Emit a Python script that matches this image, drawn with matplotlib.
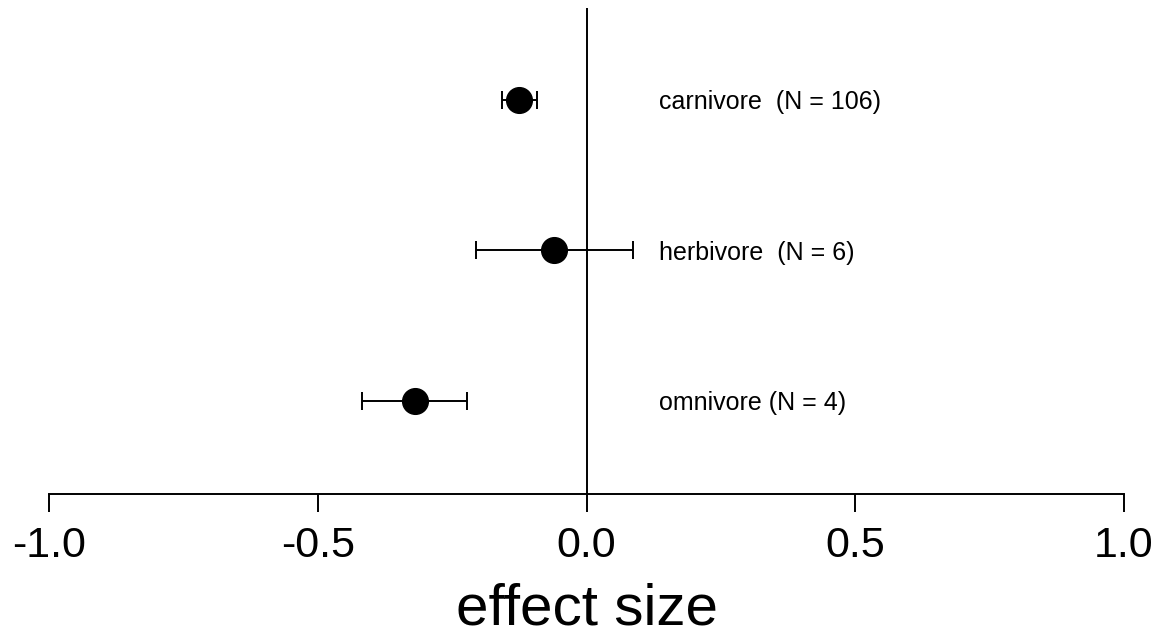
import matplotlib
matplotlib.use("Agg")
import matplotlib.pyplot as plt

groups = ["carnivore  (N = 106)", "herbivore  (N = 6)", "omnivore (N = 4)"]
ypos = [3, 2, 1]
effect = [-0.125, -0.060, -0.320]
lower = [-0.158, -0.206, -0.418]
upper = [-0.092, 0.086, -0.222]
xticks = [-1.0, -0.5, 0.0, 0.5, 1.0]
xticklabels = ["-1.0", "-0.5", "0.0", "0.5", "1.0"]

plt.rcParams['font.family'] = ['Liberation Sans', 'DejaVu Sans']

W, H = 1161, 637
fig = plt.figure(figsize=(W / 100, H / 100), dpi=100)
left, right, top, bottom = 49, 1124, 8, 494
ax = fig.add_axes([left / W, 1 - bottom / H, (right - left) / W, (bottom - top) / H])

ax.set_xlim(-1, 1)
ax.set_ylim(0.382, 3.611)

ax.axvline(0, color='black', lw=1.4)

xerr = [[e - l for e, l in zip(effect, lower)], [u - e for e, u in zip(effect, upper)]]
ax.errorbar(effect, ypos, xerr=xerr, fmt='o', color='black', ms=18.5,
            elinewidth=1.4, capsize=6.5, capthick=1.4, clip_on=False, zorder=3)

for y, g in zip(ypos, groups):
    ax.text(0.134, y, g, ha='left', va='center_baseline', fontsize=18)

for s in ['top', 'right', 'left']:
    ax.spines[s].set_visible(False)
ax.spines['bottom'].set_linewidth(1.4)
ax.set_yticks([])
ax.set_xticks(xticks)
ax.set_xticklabels(xticklabels, fontsize=31)
ax.tick_params(axis='x', length=13, width=1.4, pad=10)
ax.set_xlabel("effect size", fontsize=42, labelpad=12)

fig.savefig("out.png", dpi=100)
